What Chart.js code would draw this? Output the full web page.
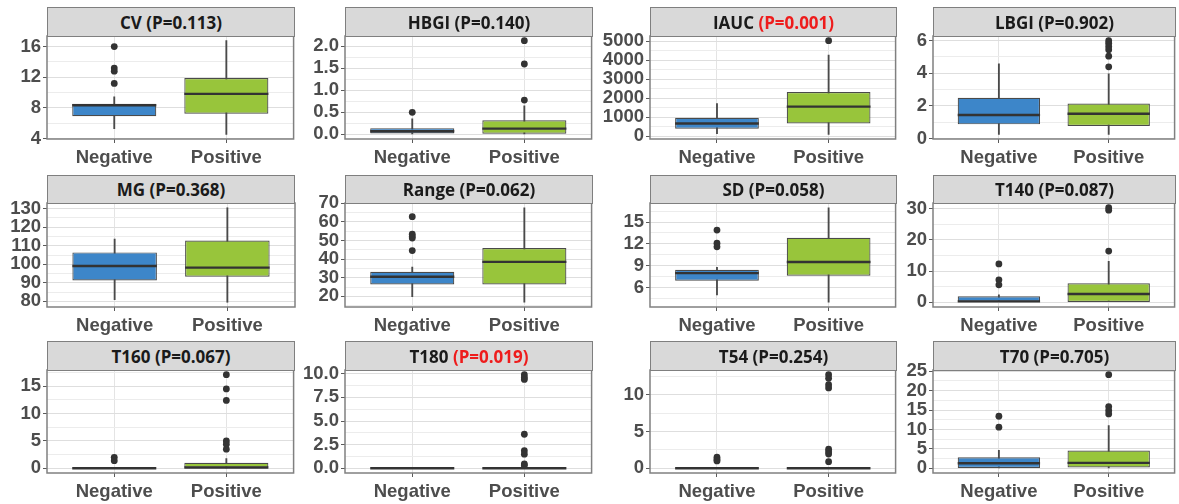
<!DOCTYPE html>
<html>
<head>
<meta charset="utf-8">
<script src="https://cdn.jsdelivr.net/npm/chart.js@4.4.1/dist/chart.umd.min.js"></script>
<style>
  html, body { margin: 0; padding: 0; background: #fff; }
  body { position: relative; width: 1179px; height: 504px; overflow: hidden; }
  .cell { position: absolute; }
  .cell canvas { display: block; }
  .strip {
    position: absolute; box-sizing: border-box;
    background: #d9d9d9; border: 1.5px solid #7f7f7f;
    font: 700 17px "Open Sans", "Liberation Sans", sans-serif; color: #1a1a1a;
    display: flex; align-items: center; justify-content: center; white-space: pre;
  }
  .strip .sig { color: #ee1c1c; }
</style>
</head>
<body>
<script>
// Groups on the x axis of every panel
const groups = ['Negative', 'Positive'];
const groupColors = ['#3d86c9', '#98c53b'];

// Box statistics per group: [lower whisker, Q1, median, Q3, upper whisker]
const cvStats    = [[5.3, 6.93, 8.35, 8.53, 9.44], [4.56, 7.24, 9.83, 11.9, 16.77]];
const hbgiStats  = [[0.0, 0.02, 0.07, 0.14, 0.35], [0.0, 0.0, 0.13, 0.32, 0.65]];
const iaucStats  = [[130, 392, 672, 973, 1714], [100, 672, 1556, 2328, 4270]];
const lbgiStats  = [[0.26, 0.87, 1.44, 2.5, 4.58], [0.26, 0.77, 1.52, 2.15, 3.97]];
const mgStats    = [[80.9, 91.3, 99.1, 106.4, 113.6], [79.5, 93.3, 98.2, 112.8, 130.5]];
const rangeStats = [[19.8, 26.4, 30.5, 33.2, 35.7], [16.8, 26.4, 38.5, 46.0, 67.6]];
const sdStats    = [[4.98, 6.92, 7.98, 8.44, 8.77], [3.96, 7.61, 9.5, 12.83, 16.98]];
const t140Stats  = [[0, 0, 0.3, 1.93, 2.35], [0, 0.1, 2.67, 6.1, 13.1]];
const t160Stats  = [[0, 0, 0, 0, 0], [0, 0, 0.15, 1.03, 1.8]];
const t180Stats  = [[0, 0, 0, 0, 0], [0, 0, 0, 0, 0]];
const t54Stats   = [[0, 0, 0, 0, 0], [0, 0, 0, 0, 0]];
const t70Stats   = [[0, 0.1, 1.3, 2.85, 4.6], [0, 0.2, 1.4, 4.57, 11.0]];

// Outlying points per group
const cvOutliers    = [[16.0, 13.2, 12.8, 11.2], []];
const hbgiOutliers  = [[0.5], [0.78, 1.6, 2.13]];
const iaucOutliers  = [[], [5026]];
const lbgiOutliers  = [[], [6.0, 5.85, 5.65, 5.45, 5.05, 4.4]];
const mgOutliers    = [[], []];
const rangeOutliers = [[62.8, 53.4, 52.2, 51.3, 44.6], []];
const sdOutliers    = [[13.9, 12.1, 11.6], []];
const t140Outliers  = [[12.3, 7.2, 5.6], [16.4, 30.3, 29.5]];
const t160Outliers  = [[2.0, 1.4], [17.1, 14.5, 12.4, 5.0, 4.4, 3.5]];
const t180Outliers  = [[], [9.9, 9.6, 9.4, 3.6, 1.86, 1.5, 0.46, 0.3]];
const t54Outliers   = [[1.5, 1.2, 1.0], [12.7, 12.2, 11.35, 10.9, 2.6, 2.25, 1.93, 0.9]];
const t70Outliers   = [[13.4, 10.6], [24.1, 15.9, 14.9, 14.0]];

// Labelled y-axis ticks per panel
const cvTicks    = [4, 8, 12, 16];
const hbgiTicks  = [0.0, 0.5, 1.0, 1.5, 2.0];
const iaucTicks  = [0, 1000, 2000, 3000, 4000, 5000];
const lbgiTicks  = [0, 2, 4, 6];
const mgTicks    = [80, 90, 100, 110, 120, 130];
const rangeTicks = [20, 30, 40, 50, 60, 70];
const sdTicks    = [6, 9, 12, 15];
const t140Ticks  = [0, 10, 20, 30];
const t160Ticks  = [0, 5, 10, 15];
const t180Ticks  = [0.0, 2.5, 5.0, 7.5, 10.0];
const t54Ticks   = [0, 5, 10];
const t70Ticks   = [0, 5, 10, 15, 20, 25];

// Panel titles and p-values
const metricNames = ['CV', 'HBGI', 'IAUC', 'LBGI', 'MG', 'Range', 'SD', 'T140', 'T160', 'T180', 'T54', 'T70'];
const pValues     = ['0.113', '0.140', '0.001', '0.902', '0.368', '0.062', '0.058', '0.087', '0.067', '0.019', '0.254', '0.705'];
const significant = [false, false, true, false, false, false, false, false, false, true, false, false];
const tickDecimals = [0, 1, 0, 0, 0, 0, 0, 0, 0, 1, 0, 0];

const allStats = [cvStats, hbgiStats, iaucStats, lbgiStats, mgStats, rangeStats, sdStats, t140Stats, t160Stats, t180Stats, t54Stats, t70Stats];
const allOutliers = [cvOutliers, hbgiOutliers, iaucOutliers, lbgiOutliers, mgOutliers, rangeOutliers, sdOutliers, t140Outliers, t160Outliers, t180Outliers, t54Outliers, t70Outliers];
const allTicks = [cvTicks, hbgiTicks, iaucTicks, lbgiTicks, mgTicks, rangeTicks, sdTicks, t140Ticks, t160Ticks, t180Ticks, t54Ticks, t70Ticks];

// Page grid: panel edges in pixels
const colLeft  = [47, 345, 650, 933];
const colRight = [295, 593, 897, 1176];
const stripTop = [7, 175, 341];
const plotTop  = [36, 203, 370];
const plotBottom = [139, 307, 473];

const Y_AXIS_W = 60, X_AXIS_H = 36, PAD_TOP = 12, PAD_RIGHT = 2;
const TICK_FONT = { family: "'Liberation Sans', Arial, sans-serif", size: 18.5, weight: 'bold' };
const TEXT_COLOR = '#4d4d4d';

// Median bars and the panel frame
const boxplotExtras = {
  id: 'boxplotExtras',
  afterDatasetsDraw(chart, args, opts) {
    const { ctx, scales: { y } } = chart;
    const meta = chart.getDatasetMeta(1);
    ctx.save();
    ctx.strokeStyle = '#333333';
    ctx.lineWidth = 2.4;
    meta.data.forEach((bar, i) => {
      const yy = y.getPixelForValue(opts.medians[i]);
      ctx.beginPath();
      ctx.moveTo(bar.x - bar.width / 2, yy);
      ctx.lineTo(bar.x + bar.width / 2, yy);
      ctx.stroke();
    });
    ctx.restore();
  },
  afterDraw(chart) {
    const { ctx, chartArea: a } = chart;
    ctx.save();
    ctx.strokeStyle = '#808080';
    ctx.lineWidth = 1.5;
    ctx.strokeRect(a.left, a.top, a.right - a.left, a.bottom - a.top);
    ctx.restore();
  }
};

function near(a, b) { return Math.abs(a - b) < 1e-6; }

function buildPanel(k) {
  const col = k % 4, row = Math.floor(k / 4);
  const L = colLeft[col], R = colRight[col];
  const SB = plotTop[row], B = plotBottom[row];
  const stats = allStats[k], outliers = allOutliers[k], majors = allTicks[k];

  // ggplot-style limits: data range widened by 5% on each side
  const values = stats.flat().concat(outliers.flat());
  const lo = Math.min(...values), hi = Math.max(...values), span = hi - lo;
  const yMin = lo - 0.05 * span, yMax = hi + 0.05 * span;
  const step = majors[1] - majors[0];
  const minors = [majors[0] - step / 2].concat(majors.map(t => t + step / 2))
    .filter(v => v > yMin && v < yMax);
  const tickValues = majors.concat(minors).sort((a, b) => a - b);
  const isMajor = v => majors.some(m => near(m, v));

  const w = R - L + Y_AXIS_W + PAD_RIGHT;
  const h = B - SB + PAD_TOP + X_AXIS_H;
  const holder = document.createElement('div');
  holder.className = 'cell';
  holder.style.left = (L - Y_AXIS_W) + 'px';
  holder.style.top = (SB - PAD_TOP) + 'px';
  const canvas = document.createElement('canvas');
  canvas.width = w; canvas.height = h;
  canvas.style.width = w + 'px'; canvas.style.height = h + 'px';
  holder.appendChild(canvas);
  document.body.appendChild(holder);

  const points = [];
  outliers.forEach((list, g) => list.forEach(v => points.push({ x: g + 1, y: v })));

  new Chart(canvas, {
    type: 'bar',
    data: {
      datasets: [
        {
          type: 'scatter', data: points, order: 0,
          pointRadius: 3.4, pointHoverRadius: 3.4,
          pointBackgroundColor: '#333333', pointBorderWidth: 0
        },
        {
          type: 'bar', order: 1, grouped: false,
          data: stats.map((s, g) => ({ x: g + 1, y: [s[1], s[3]] })),
          backgroundColor: groupColors, borderColor: '#4a4a4a', borderWidth: 1.2,
          borderSkipped: false, categoryPercentage: 0.75, barPercentage: 1
        },
        {
          type: 'bar', order: 2, grouped: false,
          data: stats.map((s, g) => ({ x: g + 1, y: [s[0], s[4]] })),
          backgroundColor: '#4a4a4a', borderWidth: 0, barThickness: 1.2
        }
      ]
    },
    options: {
      responsive: false, animation: false,
      layout: { padding: { top: PAD_TOP, right: PAD_RIGHT, left: 0, bottom: 0 } },
      plugins: {
        legend: { display: false }, tooltip: { enabled: false },
        boxplotExtras: { medians: stats.map(s => s[2]) }
      },
      scales: {
        x: {
          type: 'linear', min: 0.4, max: 2.6, offset: false,
          afterBuildTicks: s => { s.ticks = [{ value: 1 }, { value: 2 }]; },
          afterFit: s => { s.height = X_AXIS_H; s.paddingLeft = 0; s.paddingRight = 0; },
          ticks: {
            callback: (v, i) => groups[i], font: TICK_FONT, color: TEXT_COLOR,
            padding: 4, autoSkip: false, maxRotation: 0
          },
          grid: { color: '#e4e4e4', lineWidth: 1, tickLength: 4, tickColor: '#5a5a5a', offset: false },
          border: { display: false }
        },
        y: {
          min: yMin, max: yMax,
          afterBuildTicks: s => { s.ticks = tickValues.map(v => ({ value: v })); },
          afterFit: s => { s.width = Y_AXIS_W; s.paddingTop = 0; s.paddingBottom = 0; },
          ticks: {
            callback: v => isMajor(v) ? Number(v).toFixed(tickDecimals[k]) : '',
            font: TICK_FONT, color: TEXT_COLOR, padding: 2, autoSkip: false
          },
          grid: {
            color: c => isMajor(c.tick.value) ? '#dedede' : '#ececec',
            lineWidth: 1, tickLength: 4,
            tickColor: c => isMajor(c.tick.value) ? '#5a5a5a' : 'rgba(0,0,0,0)'
          },
          border: { display: false }
        }
      }
    },
    plugins: [boxplotExtras]
  });
}

function buildStrip(k) {
  const col = k % 4, row = Math.floor(k / 4);
  const strip = document.createElement('div');
  strip.className = 'strip';
  strip.style.left = colLeft[col] + 'px';
  strip.style.top = stripTop[row] + 'px';
  strip.style.width = (colRight[col] - colLeft[col]) + 'px';
  strip.style.height = (plotTop[row] - stripTop[row] + 1) + 'px';
  const name = document.createElement('span');
  name.textContent = metricNames[k] + ' ';
  const p = document.createElement('span');
  p.textContent = '(P=' + pValues[k] + ')';
  if (significant[k]) p.className = 'sig';
  strip.appendChild(name);
  strip.appendChild(p);
  document.body.appendChild(strip);
}

for (let k = 0; k < metricNames.length; k++) buildPanel(k);
for (let k = 0; k < metricNames.length; k++) buildStrip(k);
</script>
</body>
</html>
